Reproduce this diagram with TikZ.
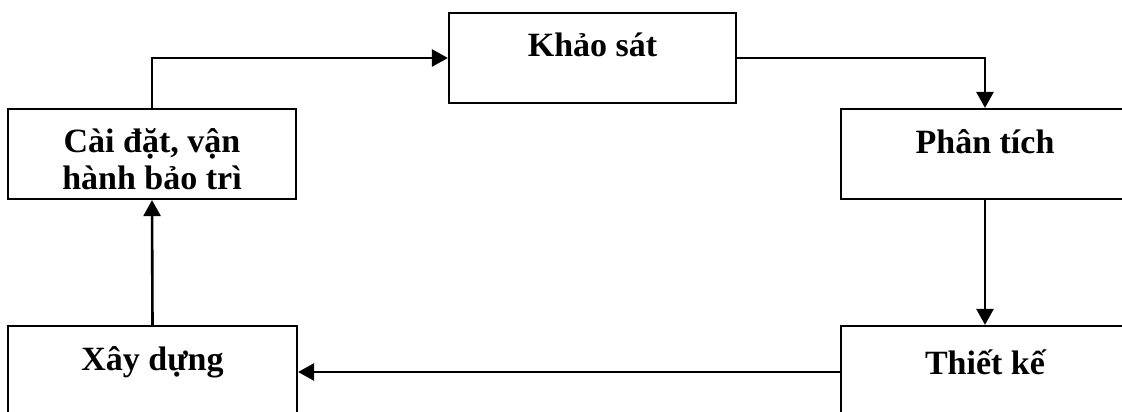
\documentclass[tikz,border=0pt]{standalone}
\usepackage{fontspec}
\setmainfont{Liberation Serif}
\usetikzlibrary{arrows.meta}
\begin{document}
\begin{tikzpicture}[x=1pt,y=-1pt,
  stepbox/.style={draw=black,line width=2.2pt,rectangle,inner sep=0pt,
    minimum width=288pt,font=\fontsize{34}{37}\selectfont\bfseries,align=center},
  conn/.style={line width=2.6pt,-{Triangle[length=16pt,width=17pt]}}]
\clip (0,0) rectangle (1122,412);
\fill[white] (0,0) rectangle (1122,412);
\node[stepbox,minimum width=287pt,text height=44pt,text depth=46pt] (K) at (592.5,58) {Khảo sát};
\node[stepbox,text height=80pt,text depth=10pt] (C) at (152,154) {Cài đặt, vận\\hành bảo trì};
\node[stepbox,text height=44pt,text depth=46pt] (P) at (985,154) {Phân tích};
\node[stepbox,minimum width=289pt,text height=44pt,text depth=48pt] (X) at (152.5,372) {Xây dựng};
\node[stepbox,text height=48pt,text depth=44pt] (T) at (985,372) {Thiết kế};
\draw[conn] (C.north) |- (K.west);
\draw[conn] (K.east) -| (P.north);
\draw[conn] (P.south) -- (T.north);
\draw[conn] (T.west) -- (X.east);
\draw[conn] (X.north) -- (C.south);
\end{tikzpicture}
\end{document}
